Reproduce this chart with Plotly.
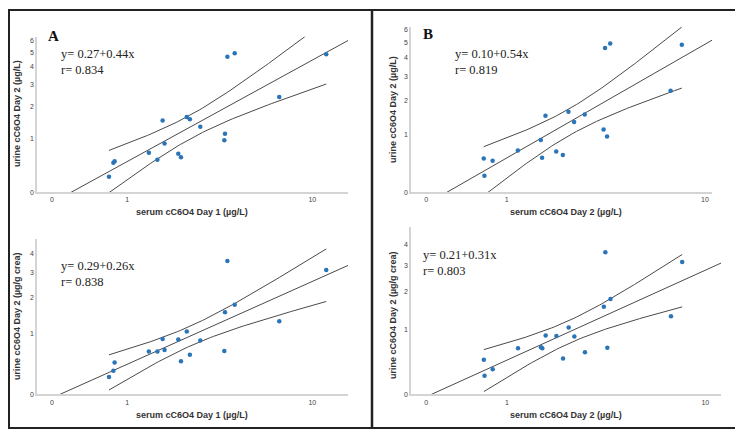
import numpy as np
import plotly.graph_objects as go

# ---------------- data (original units) ----------------
serum_day1 = [0.69, 0.76, 0.78, 1.44, 1.64, 1.77, 1.82, 2.20, 2.28, 2.46, 2.56, 2.92,
              3.89, 3.92, 4.03, 4.38, 7.11, 11.5]
urine_A_ugL = [0.22, 0.46, 0.49, 0.66, 0.52, 1.51, 0.87, 0.64, 0.57, 1.63, 1.55, 1.32,
               0.95, 1.12, 4.69, 4.96, 2.40, 4.88]
urine_A_crea = [0.22, 0.31, 0.44, 0.63, 0.63, 0.88, 0.66, 0.87, 0.46, 1.05, 0.57, 0.85,
                0.64, 1.55, 3.57, 1.78, 1.30, 3.13]

serum_day2 = [0.64, 0.65, 0.77, 1.20, 1.68, 1.71, 1.79, 2.06, 2.24, 2.40, 2.57, 2.91,
              3.60, 3.66, 3.74, 3.87, 7.19, 8.02]
urine_B_ugL = [0.50, 0.22, 0.46, 0.65, 0.87, 0.51, 1.50, 0.63, 0.56, 1.62, 1.32, 1.54,
               1.12, 4.63, 0.95, 4.93, 2.37, 4.84]
urine_B_crea = [0.45, 0.22, 0.31, 0.64, 0.66, 0.64, 0.88, 0.87, 0.47, 1.05, 0.86, 0.57,
                1.56, 3.59, 0.65, 1.78, 1.31, 3.14]

x_ticks = [0, 1, 10]
y_ticks_ugL = [0, 1, 2, 3, 4, 5, 6]
y_ticks_crea = [0, 1, 2, 3, 4]

equations = ["y= 0.27+0.44x<br>r= 0.834", "y= 0.29+0.26x<br>r= 0.838",
             "y= 0.10+0.54x<br>r= 0.819", "y= 0.21+0.31x<br>r= 0.803"]
x_titles = ["serum cC6O4 Day 1 (µg/L)", "serum cC6O4 Day 1 (µg/L)",
            "serum cC6O4 Day 2 (µg/L)", "serum cC6O4 Day 2 (µg/L)"]
y_titles = ["urine cC6O4 Day 2 (µg/L)", "urine cC6O4 Day 2 (µg/g crea)",
            "urine cC6O4 Day 2 (µg/L)", "urine cC6O4 Day 2 (µg/g crea)"]
T_CRIT = 2.12  # t(0.975, df=16)

# page has an 8px body margin; the figure is sized to fit the 743x437 window
OFF = 8
W, H = 743 - OFF, 437 - OFF


def tr(a):
    return np.log10(np.asarray(a, dtype=float) + 1.0)


def px(x):
    return (x - OFF) / W


def py(y):
    return 1 - (y - OFF) / H


panels = [
    # (x data, y data, yticks, xdomain px, ydomain px (bottom, top), xrange, yrange)
    (serum_day1, urine_A_ugL, y_ticks_ugL, (37, 348), (193, 36), (-0.06, 1.184), (0, 0.867)),
    (serum_day1, urine_A_crea, y_ticks_crea, (37, 348), (397, 240), (-0.06, 1.184), (0, 0.77)),
    (serum_day2, urine_B_ugL, y_ticks_ugL, (411, 712), (193, 26), (-0.057, 1.068), (0, 0.86)),
    (serum_day2, urine_B_crea, y_ticks_crea, (411, 721), (397, 228), (-0.057, 1.10), (0, 0.78)),
]

fig = go.Figure()
line_col = "#4a4a4a"
tick_font = dict(family="Liberation Sans", size=7, color="#444444")

for i, (xd, yd, yt, xdom, ydom, xr, yr) in enumerate(panels):
    k = "" if i == 0 else str(i + 1)
    xa, ya = "x" + k, "y" + k
    u, v = tr(xd), tr(yd)
    n = len(u)
    b, a = np.polyfit(u, v, 1)
    s = np.sqrt(np.sum((v - (a + b * u)) ** 2) / (n - 2))
    sxx = np.sum((u - u.mean()) ** 2)
    ug = np.linspace(u.min(), u.max(), 80)
    se = s * np.sqrt(1.0 / n + (ug - u.mean()) ** 2 / sxx)
    fitg = a + b * ug
    ufull = np.array(xr)
    fig.add_trace(go.Scatter(x=ufull, y=a + b * ufull, mode="lines", xaxis=xa, yaxis=ya,
                             line=dict(color=line_col, width=1), showlegend=False, hoverinfo="skip"))
    for sign in (1, -1):
        fig.add_trace(go.Scatter(x=ug, y=fitg + sign * T_CRIT * se, mode="lines", xaxis=xa, yaxis=ya,
                                 line=dict(color=line_col, width=1), showlegend=False, hoverinfo="skip"))
    fig.add_trace(go.Scatter(x=u, y=v, mode="markers", xaxis=xa, yaxis=ya,
                             marker=dict(color="#2a74b8", size=4.5), showlegend=False))
    fig.layout["xaxis" + k] = dict(domain=[px(xdom[0]), px(xdom[1])], range=list(xr), anchor=ya,
                                   tickvals=list(tr(x_ticks)), ticktext=[str(t) for t in x_ticks],
                                   showline=True, linecolor="#d4d4d4", linewidth=1.5, showgrid=False,
                                   zeroline=False, ticks="", tickfont=tick_font)
    fig.layout["yaxis" + k] = dict(domain=[py(ydom[0]), py(ydom[1])], range=list(yr), anchor=xa,
                                   tickvals=list(tr(yt)), ticktext=[str(t) for t in yt],
                                   showline=True, linecolor="#d4d4d4", linewidth=1.5, showgrid=False,
                                   zeroline=False, ticks="", tickfont=tick_font)

# equation annotations
eq_pos = [(59, 62), (59, 275), (453, 62), (421, 264)]
for (x, y), t in zip(eq_pos, equations):
    fig.add_annotation(x=px(x), y=py(y), xref="paper", yref="paper", text=t, showarrow=False,
                       xanchor="left", yanchor="middle", align="left",
                       font=dict(family="Liberation Serif", size=12.5, color="#222222"))

# panel letters
for (x, y), t in zip([(46, 35), (421, 33)], ["A", "B"]):
    fig.add_annotation(x=px(x), y=py(y), xref="paper", yref="paper", text="<b>%s</b>" % t,
                       showarrow=False, xanchor="left", yanchor="middle",
                       font=dict(family="Liberation Serif", size=15, color="#111111"))

title_font = dict(family="Liberation Sans Narrow, Liberation Sans", size=9, color="#333333")
for (x, y), t in zip([(192, 213), (192, 418), (566, 213), (566, 418)], x_titles):
    fig.add_annotation(x=px(x), y=py(y), xref="paper", yref="paper", text="<b>%s</b>" % t,
                       showarrow=False, xanchor="center", yanchor="middle", font=title_font)
for (x, y), t in zip([(17, 114), (17, 318), (393, 110), (393, 317)], y_titles):
    fig.add_annotation(x=px(x), y=py(y), xref="paper", yref="paper", text="<b>%s</b>" % t,
                       showarrow=False, xanchor="center", yanchor="middle", textangle=-90,
                       font=title_font)

# frames
fig.add_shape(type="rect", xref="paper", yref="paper", x0=px(9), x1=px(739), y0=py(431), y1=py(9),
              line=dict(color="#222222", width=2))
fig.add_shape(type="line", xref="paper", yref="paper", x0=px(372), x1=px(372), y0=py(431), y1=py(9),
              line=dict(color="#222222", width=2.5))

fig.update_layout(width=W, height=H, margin=dict(l=0, r=0, t=0, b=0),
                  paper_bgcolor="white", plot_bgcolor="white", showlegend=False)

fig.write_html("out.html")
